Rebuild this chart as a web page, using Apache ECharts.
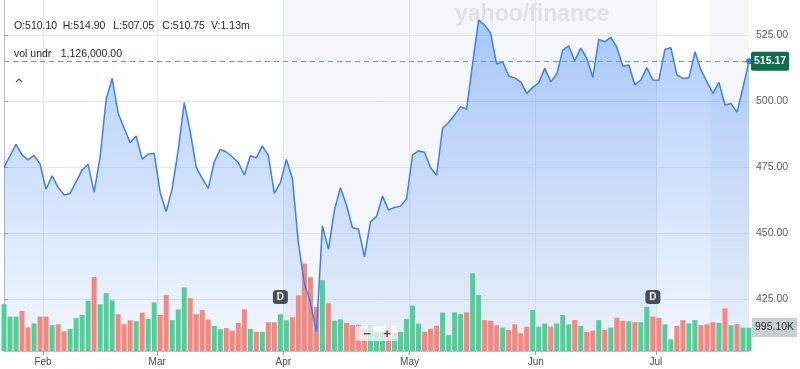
<!DOCTYPE html>
<html><head><meta charset="utf-8">
<script src="https://cdn.jsdelivr.net/npm/echarts@6/dist/echarts.min.js"></script>
<style>html,body{margin:0;padding:0;background:#fff}#c{width:800px;height:369px}</style>
</head><body><div id="c"></div>
<script>
// ---- data ----
const dates = [
'2025-01-23','2025-01-24','2025-01-27','2025-01-28','2025-01-29','2025-01-30','2025-01-31',
'2025-02-03','2025-02-04','2025-02-05','2025-02-06','2025-02-07','2025-02-10','2025-02-11','2025-02-12','2025-02-13','2025-02-14','2025-02-18','2025-02-19','2025-02-20','2025-02-21','2025-02-24','2025-02-25','2025-02-26','2025-02-27','2025-02-28',
'2025-03-03','2025-03-04','2025-03-05','2025-03-06','2025-03-07','2025-03-10','2025-03-11','2025-03-12','2025-03-13','2025-03-14','2025-03-17','2025-03-18','2025-03-19','2025-03-20','2025-03-21','2025-03-24','2025-03-25','2025-03-26','2025-03-27','2025-03-28','2025-03-31',
'2025-04-01','2025-04-02','2025-04-03','2025-04-04','2025-04-07','2025-04-08','2025-04-09','2025-04-10','2025-04-11','2025-04-14','2025-04-15','2025-04-16','2025-04-17','2025-04-21','2025-04-22','2025-04-23','2025-04-24','2025-04-25','2025-04-28','2025-04-29','2025-04-30',
'2025-05-01','2025-05-02','2025-05-05','2025-05-06','2025-05-07','2025-05-08','2025-05-09','2025-05-12','2025-05-13','2025-05-14','2025-05-15','2025-05-16','2025-05-19','2025-05-20','2025-05-21','2025-05-22','2025-05-23','2025-05-27','2025-05-28','2025-05-29','2025-05-30',
'2025-06-02','2025-06-03','2025-06-04','2025-06-05','2025-06-06','2025-06-09','2025-06-10','2025-06-11','2025-06-12','2025-06-13','2025-06-16','2025-06-17','2025-06-18','2025-06-20','2025-06-23','2025-06-24','2025-06-25','2025-06-26','2025-06-27','2025-06-30',
'2025-07-01','2025-07-02','2025-07-03','2025-07-07','2025-07-08','2025-07-09','2025-07-10','2025-07-11','2025-07-14','2025-07-15','2025-07-16','2025-07-17','2025-07-18','2025-07-21','2025-07-22','2025-07-23'
];
const closes = [
475.0,479.3,483.7,479.7,477.8,479.5,476.3,
466.7,471.8,467.4,464.5,465.1,469.5,474.0,476.1,465.6,479.0,500.8,508.7,495.5,489.8,484.3,486.9,478.1,480.0,480.3,
465.4,458.2,467.0,481.6,499.5,488.5,475.0,470.8,467.0,477.1,481.8,480.8,479.0,476.8,472.1,479.4,478.6,483.1,479.4,465.1,469.2,
478.0,470.8,446.2,431.0,423.8,412.7,452.8,443.9,458.8,467.3,460.7,452.1,451.6,441.1,454.4,456.3,464.1,458.8,459.8,460.3,463.0,
479.7,481.2,480.7,474.8,472.0,489.8,492.0,494.8,498.0,497.0,514.4,530.8,528.9,525.8,514.1,515.0,509.6,508.9,507.4,503.0,505.3,
507.0,512.5,507.4,510.3,519.4,521.0,515.4,520.2,516.3,509.1,523.5,522.6,524.2,520.5,513.3,513.8,506.2,508.1,512.7,508.1,
508.0,519.7,520.3,510.0,508.7,508.9,518.8,511.9,507.4,503.0,507.2,498.6,499.2,495.8,505.3,515.17
];
// volume in millions
const volumes = [
2.00,1.47,1.47,1.71,1.01,1.18,1.47,
1.47,1.10,1.14,0.84,0.94,1.40,1.54,2.14,3.16,2.00,2.47,2.17,1.57,1.14,1.31,1.27,1.64,1.37,2.07,
1.54,2.39,1.32,1.78,2.72,2.26,1.57,1.74,1.35,1.07,0.93,0.98,0.87,1.20,1.78,0.94,0.82,0.82,1.23,1.23,1.57,
1.31,1.44,2.38,3.74,3.15,1.89,3.03,2.04,1.29,1.35,1.20,1.11,1.12,0.97,1.08,0.82,0.82,1.07,0.78,0.82,1.37,
1.94,1.17,0.82,0.94,1.08,1.64,0.68,1.65,1.57,1.65,3.32,2.39,1.32,1.29,1.10,1.00,0.90,1.14,0.76,1.04,1.75,
1.04,1.17,1.04,1.17,1.54,1.14,1.32,1.07,0.82,0.87,1.32,0.90,1.00,1.42,1.29,1.27,1.23,1.23,1.89,1.47,
1.42,1.14,0.50,1.07,1.32,1.18,1.32,1.10,1.14,1.23,1.20,1.82,1.10,1.15,1.00,0.9951
];
const yTicks = [425, 450, 475, 500, 525];
const monthNames = ['Jan','Feb','Mar','Apr','May','Jun','Jul','Aug','Sep','Oct','Nov','Dec'];
const dividendDates = ['2025-03-31', '2025-06-30'];
const shadeRanges = [['2025-04-01', '2025-06-30'], ['2025-07-15', '2025-07-23']];
const headerItems = ['O:510.10', 'H:514.90', 'L:507.05', 'C:510.75', 'V:1.13m'];
const indicatorName = 'vol undr';
const indicatorValue = '1,126,000.00';
const lastPrice = 515.17;
const lastVolume = 0.9951; // millions

// ---- derived ----
const N = dates.length;
const monthBounds = [];
const monthLabelAt = {};
for (let i = 1; i < N; i++) {
  if (dates[i].slice(5, 7) !== dates[i - 1].slice(5, 7)) {
    const b = i - 0.5;
    monthBounds.push(b);
    monthLabelAt[String(b)] = monthNames[parseInt(dates[i].slice(5, 7), 10) - 1];
  }
}
const shadeData = shadeRanges.map(r => [
  { xAxis: Math.max(0, dates.indexOf(r[0]) - 0.5) },
  { xAxis: Math.min(N - 1, dates.indexOf(r[1]) + 0.5) }
]);
const GREEN = '#52ce98', RED = '#f5877e';
const volData = volumes.map((v, i) => ({
  value: v,
  itemStyle: { color: (i === 0 || closes[i] >= closes[i - 1]) ? GREEN : RED }
}));

const FONT = '"Liberation Sans", Arial, sans-serif';
const chart = echarts.init(document.getElementById('c'), null, { renderer: 'canvas' });

const headerX = [14, 62.7, 113.3, 162.3, 211];
const graphics = headerItems.map((t, k) => ({
  type: 'text', x: headerX[k], y: 26,
  style: { text: t, fill: '#232a31', font: '10.5px ' + FONT, verticalAlign: 'middle' }, z: 10
}));
graphics.push(
  { type: 'text', x: 14, y: 54.5, style: { text: indicatorName, fill: '#232a31', font: '10.5px ' + FONT, verticalAlign: 'middle' }, z: 10 },
  { type: 'text', x: 60.7, y: 54.5, style: { text: indicatorValue, fill: '#232a31', font: '10.5px ' + FONT, verticalAlign: 'middle' }, z: 10 },
  { type: 'polyline', shape: { points: [[16, 82], [19, 79], [22, 82]] }, style: { stroke: '#464e56', lineWidth: 1.2, fill: null }, z: 10 },
  { type: 'text', x: 455, y: 15, style: { text: 'yahoo/finance', fill: '#e1e4e8', font: 'bold 23px ' + FONT, verticalAlign: 'middle' }, z: 0 },
  { type: 'rect', shape: { x: 356, y: 326, width: 41, height: 15, r: 2 }, style: { fill: 'rgba(255,255,255,0.7)' }, z: 10 },
  { type: 'text', x: 367, y: 334, style: { text: '−', fill: '#464e56', font: 'bold 13px ' + FONT, align: 'center', verticalAlign: 'middle' }, z: 11 },
  { type: 'text', x: 387, y: 334, style: { text: '+', fill: '#464e56', font: 'bold 13px ' + FONT, align: 'center', verticalAlign: 'middle' }, z: 11 }
);

const option = {
  animation: false,
  textStyle: { fontFamily: FONT },
  grid: { left: 4, right: 51, top: 0, bottom: 18 },
  xAxis: [
    { type: 'category', data: dates, boundaryGap: false, show: false, gridIndex: 0, position: 'bottom' },
    {
      type: 'value', min: 0, max: N - 1, gridIndex: 0, position: 'bottom',
      axisLine: { show: true, lineStyle: { color: '#b9bfc5' } },
      axisTick: { show: true, length: 4, customValues: monthBounds, lineStyle: { color: '#9aa1a8' } },
      axisLabel: { customValues: monthBounds, formatter: v => monthLabelAt[String(v)] || '', color: '#464e56', fontSize: 10, margin: 6 },
      splitLine: { show: true, lineStyle: { color: '#e6e9ed' } }
    }
  ],
  yAxis: [
    {
      type: 'value', position: 'right', min: 405.4, max: 538.4, gridIndex: 0,
      axisLine: { show: true, lineStyle: { color: '#b9bfc5' } },
      axisTick: { show: true, length: 4, customValues: yTicks, lineStyle: { color: '#9aa1a8' } },
      axisLabel: { customValues: yTicks, formatter: v => v.toFixed(2), color: '#5b636a', fontSize: 10.5, margin: 7 },
      splitLine: { show: true, lineStyle: { color: '#e6e9ed' } }
    },
    { type: 'value', min: 0, max: 15, show: false, gridIndex: 0, position: 'left' }
  ],
  graphic: graphics,
  series: [
    {
      type: 'line', xAxisIndex: 1, yAxisIndex: 0, data: [[0, closes[0]]], symbol: 'none',
      lineStyle: { opacity: 0 }, silent: true, z: 0,
      markArea: { silent: true, itemStyle: { color: 'rgba(214,222,234,0.28)' }, data: shadeData }
    },
    {
      type: 'line', xAxisIndex: 0, yAxisIndex: 0, data: closes, symbol: 'none', silent: true, z: 1,
      lineStyle: { width: 0, opacity: 0 },
      areaStyle: {
        color: { type: 'linear', x: 0, y: 0, x2: 0, y2: 1, colorStops: [
          { offset: 0, color: 'rgba(59,130,246,0.58)' },
          { offset: 1, color: 'rgba(59,130,246,0.08)' }
        ] }
      }
    },
    {
      type: 'bar', xAxisIndex: 0, yAxisIndex: 1, data: volData, barWidth: 5, z: 2, silent: true,
      markLine: {
        silent: true, symbol: ['none', 'none'], lineStyle: { color: 'rgba(0,0,0,0)', width: 0 },
        label: {
          show: true, position: 'end', distance: 3, formatter: (lastVolume * 1000).toFixed(2) + 'K',
          backgroundColor: '#c9ced3', color: '#232a31', fontSize: 10.5, padding: [4, 3, 4, 3], opacity: 1
        },
        data: [{ yAxis: lastVolume }]
      }
    },
    {
      type: 'line', xAxisIndex: 0, yAxisIndex: 0, data: closes, symbol: 'none', z: 3, silent: true,
      lineStyle: { color: '#3b7ff0', width: 1.5 },
      markLine: {
        silent: true, symbol: ['none', 'none'],
        lineStyle: { color: '#4fb18e', type: [5, 4], width: 1 },
        label: {
          show: true, position: 'end', distance: 2, formatter: lastPrice.toFixed(2),
          backgroundColor: '#0c6e4d', color: '#fff', fontWeight: 'bold', fontSize: 10.5,
          padding: [4, 3, 4, 3], borderRadius: 2
        },
        data: [{ yAxis: lastPrice }]
      },
      markPoint: {
        silent: true,
        data: [
          { coord: [dates[N - 1], closes[N - 1]], symbol: 'circle', symbolSize: 6,
            itemStyle: { color: '#3b7ff0' }, label: { show: false } }
        ].concat(dividendDates.map(d => ({
          coord: [d, 425.9], symbol: 'roundRect', symbolSize: [15, 14],
          itemStyle: { color: '#464e56' },
          label: { show: true, formatter: 'D', color: '#fff', fontWeight: 'bold', fontSize: 10, position: 'inside' }
        })))
      }
    }
  ]
};
chart.setOption(option);
</script>
</body></html>
